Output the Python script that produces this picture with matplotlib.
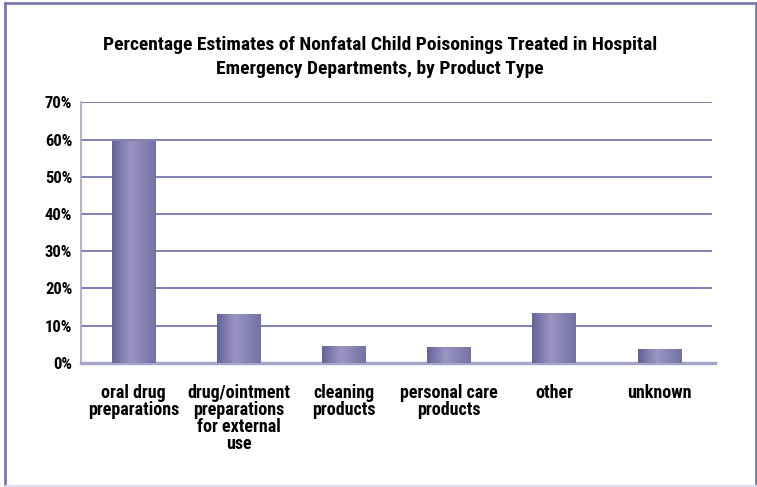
import numpy as np
import matplotlib.pyplot as plt
from matplotlib.lines import Line2D
from matplotlib.colors import LinearSegmentedColormap

categories = ['oral drug\npreparations', 'drug/ointment\npreparations\nfor external\nuse',
              'cleaning\nproducts', 'personal care\nproducts', 'other', 'unknown']
percentages = [59.6, 13.1, 4.5, 4.2, 13.4, 3.7]
y_ticks = [0, 10, 20, 30, 40, 50, 60, 70]
title = ('Percentage Estimates of Nonfatal Child Poisonings Treated in Hospital\n'
         'Emergency Departments, by Product Type')

plt.rcParams['font.family'] = ['Roboto Condensed', 'Archivo Narrow', 'Liberation Sans Narrow', 'DejaVu Sans']
plt.rcParams['font.weight'] = 'bold'

fig = plt.figure(figsize=(7.57, 4.87), dpi=100)
ax = fig.add_axes([80.7 / 757, 1 - 362.7 / 487, (711.7 - 80.7) / 757, (362.7 - 102.3) / 487])

x = np.arange(len(categories))
bars = ax.bar(x, percentages, width=0.41, color='none', zorder=3)

# horizontal gradient for each bar
grad_cmap = LinearSegmentedColormap.from_list(
    'barshade', [(0, '#62629a'), (0.42, '#9b95c2'), (1, '#7272a4')])
gradient = np.linspace(0, 1, 256).reshape(1, -1)
for b in bars:
    ax.imshow(gradient, cmap=grad_cmap, aspect='auto', zorder=3,
              extent=[b.get_x(), b.get_x() + b.get_width(), 0, b.get_height()])

ax.set_xlim(-0.5, len(categories) - 0.5)
ax.set_ylim(0, 70)
ax.set_yticks(y_ticks)
ax.set_yticklabels([f'{t}%' for t in y_ticks], fontsize=12, fontweight='bold')
ax.set_xticks(x)
ax.set_xticklabels(categories, fontsize=13, fontweight='bold', linespacing=0.95, va='top')
ax.tick_params(axis='both', length=0)
ax.tick_params(axis='x', pad=15)
ax.tick_params(axis='y', pad=6)

# gridlines
for t in y_ticks[1:]:
    ax.axhline(t, color='#5c5c9c', lw=1.1, zorder=1)

for s in ['top', 'right']:
    ax.spines[s].set_visible(False)
ax.spines['left'].set_color('#a6a6c8')
ax.spines['left'].set_linewidth(1.2)
ax.spines['bottom'].set_visible(False)
ax.plot([0, 1.005], [0, 0], transform=ax.transAxes, color='#a6a6c8', lw=2.5,
        clip_on=False, zorder=2)

fig.text(0.502, 1 - 57 / 487, title, ha='center', va='center', fontsize=14,
         fontweight='bold', linespacing=1.45)

# outer frame
W, H = 757, 487
frame_col = '#7a7aae'
fig.add_artist(Line2D([5 / W, 5 / W], [0, 1 - 3 / H], color=frame_col, lw=2, transform=fig.transFigure))
fig.add_artist(Line2D([5 / W, 755.5 / W], [1 - 3 / H, 1 - 3 / H], color=frame_col, lw=2, transform=fig.transFigure))
fig.add_artist(Line2D([755.5 / W, 755.5 / W], [0, 1 - 3 / H], color=frame_col, lw=2, transform=fig.transFigure))
fig.add_artist(Line2D([5 / W, 755.5 / W], [1 / H, 1 / H], color='#dedeee', lw=2, transform=fig.transFigure))

fig.savefig('out.png', dpi=100)
